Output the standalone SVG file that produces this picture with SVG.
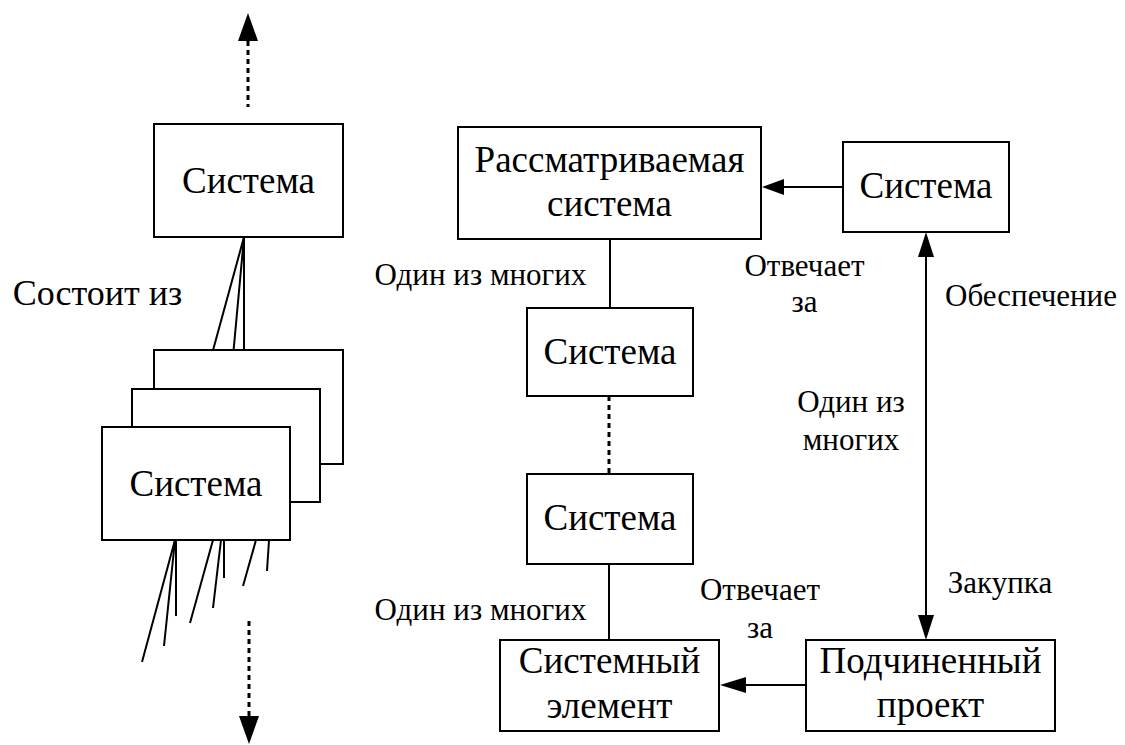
<svg xmlns="http://www.w3.org/2000/svg" width="1125" height="745" viewBox="0 0 1125 745">
<style>
.box{fill:#fff;stroke:#000;stroke-width:2}
.ln{stroke:#000;stroke-width:2;fill:none}
.dot{stroke:#000;stroke-width:3;fill:none;stroke-dasharray:5,4}
.t{font-size:37px;fill:#000;text-anchor:middle}
.l{font-size:31px;fill:#000;text-anchor:middle}
.ah{fill:#000}
</style>
<rect width="1125" height="745" fill="#fff"/>
<g id="connectors">
<line class="dot" x1="248" y1="41" x2="248" y2="107"/>
<polygon class="ah" points="248,13 238,41 258,41"/>
<line class="ln" x1="244" y1="237" x2="244" y2="350"/>
<line class="ln" x1="244" y1="237" x2="230" y2="389"/>
<line class="ln" x1="244" y1="237" x2="192" y2="427"/>
<line class="ln" x1="175" y1="540" x2="142" y2="662"/>
<line class="ln" x1="175" y1="540" x2="164" y2="646"/>
<line class="ln" x1="176" y1="540" x2="176" y2="616"/>
<line class="ln" x1="213" y1="540" x2="190" y2="623"/>
<line class="ln" x1="221" y1="540" x2="213" y2="608"/>
<line class="ln" x1="224" y1="540" x2="224" y2="578"/>
<line class="ln" x1="256" y1="540" x2="243" y2="586"/>
<line class="ln" x1="269" y1="540" x2="267" y2="571"/>
<line class="dot" x1="249" y1="621" x2="249" y2="718"/>
<polygon class="ah" points="249,744 239,716 259,716"/>
<line class="ln" x1="610" y1="239" x2="610" y2="308"/>
<line class="dot" x1="609" y1="396" x2="609" y2="474"/>
<line class="ln" x1="609" y1="564" x2="609" y2="640"/>
<line class="ln" x1="843" y1="187" x2="782" y2="187"/>
<polygon class="ah" points="762,187 784,179 784,195"/>
<line class="ln" x1="926" y1="256" x2="926" y2="616"/>
<polygon class="ah" points="926,232 918,257 934,257"/>
<polygon class="ah" points="926,640 918,615 934,615"/>
<line class="ln" x1="806" y1="685" x2="744" y2="685"/>
<polygon class="ah" points="720,685 746,677 746,693"/>
</g>
<g font-family="'Liberation Serif', Tinos, 'Times New Roman', 'Noto Serif', FreeSerif, 'DejaVu Serif', serif">
<g id="n-sys-top">
<rect class="box" x="154" y="124" width="189" height="113"/>
<text class="t" x="248.5" y="193">Система</text>
</g>
<g id="n-stack-back">
<rect class="box" x="154" y="350" width="189" height="114"/>
</g>
<g id="n-stack-mid">
<rect class="box" x="132" y="389" width="188" height="113"/>
</g>
<g id="n-stack-front">
<rect class="box" x="102" y="427" width="188" height="113"/>
<text class="t" x="196" y="496">Система</text>
</g>
<g id="n-considered">
<rect class="box" x="458" y="127" width="303" height="112"/>
<text class="t" x="609.5" y="172">Рассматриваемая</text>
<text class="t" x="609.5" y="216">система</text>
</g>
<g id="n-sys-right">
<rect class="box" x="843" y="142" width="166" height="90"/>
<text class="t" x="926" y="198">Система</text>
</g>
<g id="n-sys-mid1">
<rect class="box" x="527" y="308" width="166" height="88"/>
<text class="t" x="610" y="364">Система</text>
</g>
<g id="n-sys-mid2">
<rect class="box" x="527" y="474" width="166" height="90"/>
<text class="t" x="610" y="530">Система</text>
</g>
<g id="n-element">
<rect class="box" x="500" y="640" width="219" height="91"/>
<text class="t" x="609.5" y="673">Системный</text>
<text class="t" x="609.5" y="718">элемент</text>
</g>
<g id="n-subproject">
<rect class="box" x="806" y="640" width="249" height="91"/>
<text class="t" x="930.5" y="673">Подчиненный</text>
<text class="t" x="930.5" y="717">проект</text>
</g>
<g id="labels">
<text class="l" x="97.5" y="305" style="font-size:36px">Состоит из</text>
<text class="l" x="480.5" y="285">Один из многих</text>
<text class="l" x="804.5" y="276">Отвечает</text>
<text class="l" x="804.5" y="312">за</text>
<text class="l" x="1031" y="306">Обеспечение</text>
<text class="l" x="851" y="412">Один из</text>
<text class="l" x="851" y="450">многих</text>
<text class="l" x="1000" y="593">Закупка</text>
<text class="l" x="480.5" y="620">Один из многих</text>
<text class="l" x="760" y="600">Отвечает</text>
<text class="l" x="760" y="638">за</text>
</g>
</g>
</svg>
